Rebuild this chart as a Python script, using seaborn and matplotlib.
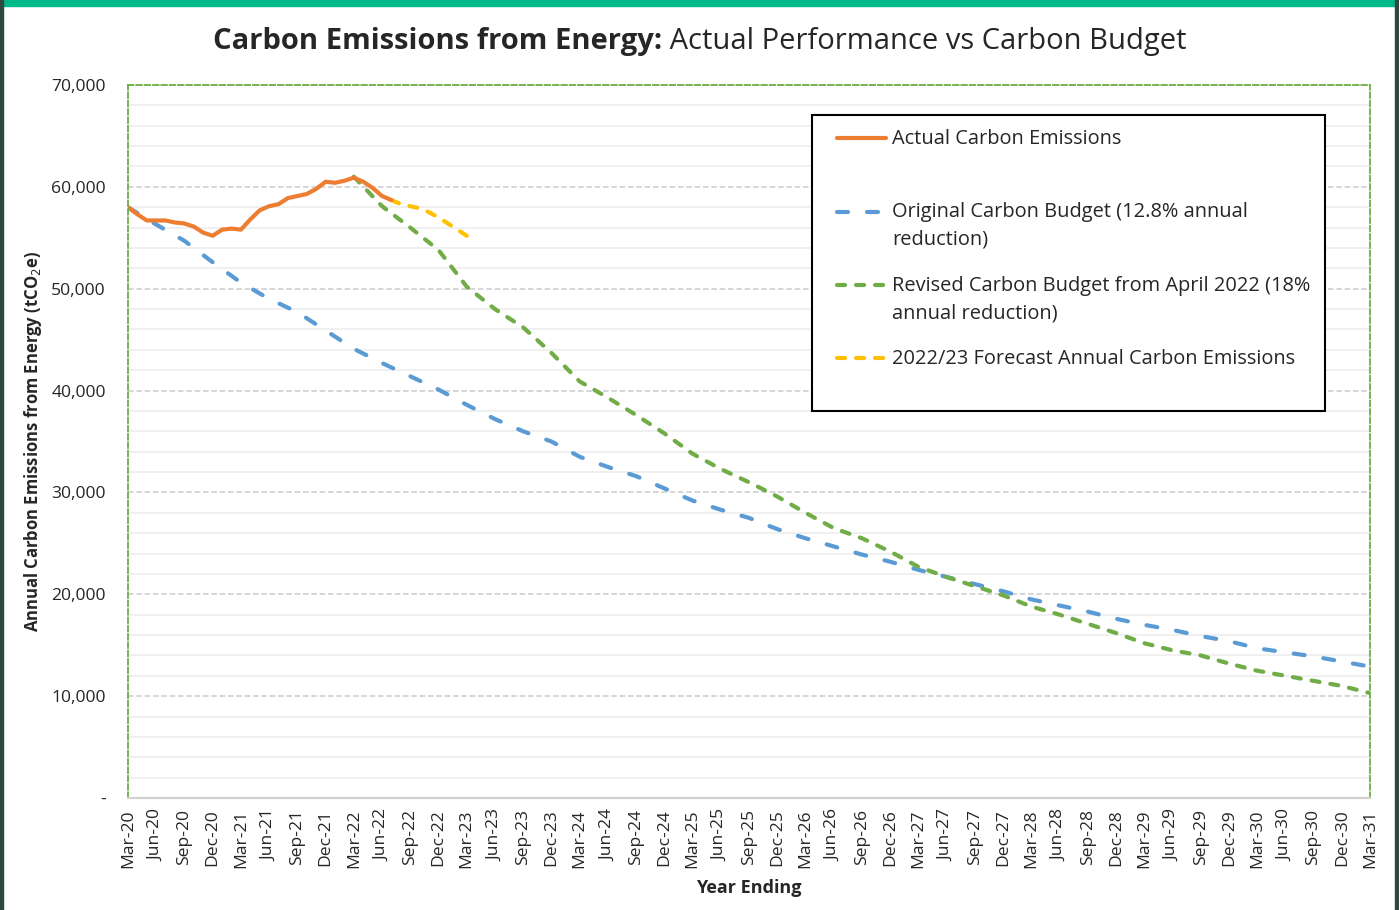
import numpy as np
import pandas as pd
import matplotlib
matplotlib.use("Agg")
import matplotlib.pyplot as plt
import seaborn as sns
from matplotlib.legend_handler import HandlerLine2D
from matplotlib.patches import Rectangle
from matplotlib.ticker import MultipleLocator, FuncFormatter

# Values (tCO2e, year ending)
# actual emissions, monthly Mar-20 .. Jul-22
actual = [58000, 57300, 56700, 56700, 56700, 56500, 56400, 56100, 55500, 55200,
          55800, 55900, 55800, 56800, 57700, 58100, 58300, 58900, 59100, 59300,
          59800, 60500, 60400, 60600, 60900, 60500, 59900, 59100, 58700]
# forecast, monthly Jul-22 .. Mar-23
forecast = [58700, 58300, 58100, 57900, 57500, 57000, 56400, 55800, 55200]
# original budget (12.8%), quarterly Mar-20 .. Mar-31
original = [58000, 56300, 54700, 52600, 50600, 49000, 47700, 45900, 44100, 42700,
            41400, 40100, 38600, 37200, 36000, 35000, 33500, 32500, 31600, 30400,
            29200, 28300, 27500, 26400, 25500, 24700, 23900, 23200, 22400, 21700,
            21000, 20300, 19500, 18900, 18300, 17600, 17000, 16500, 15900, 15400,
            14700, 14300, 13900, 13400, 12900]
# revised budget (18%), quarterly Mar-22 .. Mar-31
revised = [61000, 58100, 56000, 53800, 50200, 48000, 46200, 43700, 40900, 39300,
           37600, 35800, 33800, 32300, 31000, 29600, 28000, 26500, 25500, 24200,
           22700, 21700, 20800, 19900, 18800, 18000, 17100, 16200, 15200, 14500,
           14000, 13200, 12500, 12000, 11500, 11000, 10300]

tick_labels = pd.date_range("2020-03-01", "2031-03-01", freq="3MS").strftime("%b-%y").tolist()

df_actual = pd.DataFrame({"month": np.arange(len(actual)), "value": actual})
df_forecast = pd.DataFrame({"month": np.arange(len(forecast)) + 28, "value": forecast})
df_original = pd.DataFrame({"month": np.arange(len(original)) * 3, "value": original})
df_revised = pd.DataFrame({"month": np.arange(len(revised)) * 3 + 24, "value": revised})

sns.set_style("white")
plt.rcParams["font.family"] = ["Open Sans", "DejaVu Sans"]
plt.rcParams["lines.scale_dashes"] = False

fig = plt.figure(figsize=(13.99, 9.10), dpi=100)
ax = fig.add_axes([128 / 1399, 1 - 798 / 910, (1370 - 128) / 1399, (798 - 85) / 910])

lw = 3.0
sns.lineplot(data=df_original, x="month", y="value", ax=ax, color="#5B9BD5", lw=lw,
             linestyle=(0, (7.9, 13.7)), dash_capstyle="round",
             label="Original Carbon Budget (12.8% annual\nreduction)")
sns.lineplot(data=df_revised, x="month", y="value", ax=ax, color="#70AD47", lw=lw,
             linestyle=(0, (5.8, 7.9)), dash_capstyle="round",
             label="Revised Carbon Budget from April 2022 (18%\nannual reduction)")
sns.lineplot(data=df_forecast, x="month", y="value", ax=ax, color="#FFC000", lw=lw,
             linestyle=(0, (5.8, 7.9)), dash_capstyle="round",
             label="2022/23 Forecast Annual Carbon Emissions\n")
sns.lineplot(data=df_actual, x="month", y="value", ax=ax, color="#ED7D31", lw=lw,
             solid_capstyle="round", label="Actual Carbon Emissions\n")

ax.set_xlim(0, 132)
ax.set_ylim(0, 70000)

# gridlines: light minor every 2,000, dashed major every 10,000
ax.yaxis.set_major_locator(MultipleLocator(10000))
ax.yaxis.set_minor_locator(MultipleLocator(2000))
ax.grid(which="minor", axis="y", color="#F0F0F0", lw=1.4, ls="-")
ax.grid(which="major", axis="y", color="#D0D0D0", lw=1.2, ls=(0, (4, 2)))
ax.grid(axis="x", visible=False)
ax.set_axisbelow(True)

ax.yaxis.set_major_formatter(FuncFormatter(lambda v, p: "-" if v == 0 else f"{v:,.0f}"))
ax.set_xticks(np.arange(0, 133, 3))
ax.set_xticklabels(tick_labels, rotation=90)
ax.tick_params(axis="both", length=0, labelsize=12.6, labelcolor="#262626")
ax.tick_params(axis="y", pad=16)
ax.tick_params(axis="x", pad=8)

for side in ["left", "top", "right"]:
    ax.spines[side].set_color("#70AD47")
    ax.spines[side].set_linewidth(1.3)
    ax.spines[side].set_linestyle((0, (4, 2)))
ax.spines["bottom"].set_color("#D0D0D0")
ax.spines["bottom"].set_linewidth(1.5)

ax.set_xlabel("Year Ending", fontsize=13, fontweight="bold", labelpad=8)
ax.set_ylabel("Annual Carbon Emissions from Energy (tCO$_2$e)", fontsize=12,
              fontweight="bold", labelpad=5)


class TopLineHandler(HandlerLine2D):
    # keep the handle level with the first line of a two-line label,
    # and start it a little further in from the frame
    def create_artists(self, legend, orig_handle, xdescent, ydescent, width, height, fontsize, trans):
        arts = super().create_artists(legend, orig_handle, xdescent, ydescent, width, height, fontsize, trans)
        for a in arts:
            y = np.asarray(a.get_ydata(), dtype=float)
            x = np.asarray(a.get_xdata(), dtype=float)
            a.set_ydata(y + fontsize * 0.76)
            if len(x) > 1:
                a.set_xdata(np.linspace(x.min() + 7.5, x.max(), len(x)))
        return arts


handles, labels = ax.get_legend_handles_labels()
order = [3, 0, 1, 2]
leg = ax.legend([handles[i] for i in order], [labels[i] for i in order],
                loc="upper left", bbox_to_anchor=(812 / 1399, 1 - 115 / 910),
                bbox_transform=fig.transFigure, borderaxespad=0, fontsize=14.4,
                frameon=True, fancybox=False, framealpha=1, edgecolor="black",
                handlelength=3.0, handletextpad=0.3, borderpad=0.72, labelspacing=1.28,
                handler_map={h: TopLineHandler() for h in handles})
leg.get_frame().set_linewidth(1.5)
for t in leg.get_texts():
    t.set_linespacing(1.5)

# title: bold lead-in followed by regular text
r = fig.canvas.get_renderer()
t1 = fig.text(0.5, 1 - 42 / 910, "Carbon Emissions from Energy:", fontsize=21,
              fontweight="bold", ha="left", va="center")
t2 = fig.text(0.5, 1 - 42 / 910, " Actual Performance vs Carbon Budget", fontsize=21,
              ha="left", va="center")
w1 = t1.get_window_extent(r).width
w2 = t2.get_window_extent(r).width
x0 = (700 - (w1 + w2) / 2) / 1399
t1.set_x(x0)
t2.set_x(x0 + w1 / 1399)

# outer frame of the original image
fig.add_artist(Rectangle((0, 1 - 6 / 910), 1, 6 / 910, transform=fig.transFigure,
                         color="#00B98B", zorder=10))
fig.add_artist(Rectangle((0, 0), 3 / 1399, 1, transform=fig.transFigure,
                         color="#2E4A40", zorder=10))
fig.add_artist(Rectangle((1 - 4 / 1399, 0), 4 / 1399, 1, transform=fig.transFigure,
                         color="#2E4A40", zorder=10))

fig.savefig("out.png", dpi=100)
